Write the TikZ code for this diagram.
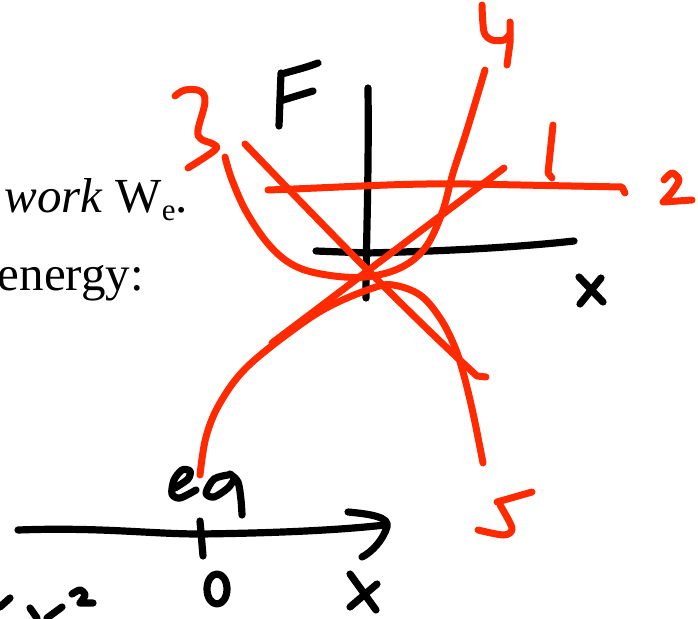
\documentclass[tikz,border=0pt]{standalone}
\usepackage{fontspec}
\setmainfont{Liberation Serif}
\definecolor{pen}{RGB}{255,42,0}
\tikzset{
  ink/.style={line width=7.2pt, line cap=round, line join=round, black},
  redink/.style={line width=7pt, line cap=round, line join=round, pen},
  slide/.style={inner sep=0pt, font=\fontsize{49}{54}\selectfont},
}
\begin{document}
\begin{tikzpicture}[x=1pt,y=-1pt]
\useasboundingbox (0,0) rectangle (698,618);
\clip (0,0) rectangle (698,618);
% slide text
\node[slide, anchor=base east] (t1) at (188,212) {\textit{work} W{\fontsize{31}{31}\selectfont\raisebox{-8pt}{e}}.};
\node[slide, anchor=base east] (t2) at (144,290) {energy:};
% black sketch: F axes
\draw[ink] (279,126) -- (281,73);
\draw[ink] (282,74) .. controls (295,70) and (305,68) .. (318,63);
\draw[ink] (280,101) -- (313,91);
\draw[ink] (368,88) .. controls (369,180) and (366,240) .. (366,298);
\draw[ink] (316,251) -- (367,253) .. controls (450,251) and (520,247) .. (574,241);
\draw[ink] (579,277) -- (603,302);
\draw[ink] (601,278) -- (580,304);
% bottom axis
\draw[ink] (18,530) .. controls (100,527) and (150,534) .. (200,534) .. controls (280,533) and (340,530) .. (385,525);
\draw[ink] (348,512) .. controls (370,514) and (390,517) .. (387,527) .. controls (383,540) and (372,552) .. (362,557);
\draw[ink] (200,521) -- (203,556);
\draw[ink] (217,589) ellipse [x radius=10, y radius=15];
\draw[ink] (350,574) -- (376,610);
\draw[ink] (377,584) -- (350,607);
% eq
\draw[ink] plot[smooth] coordinates {(175,488) (188,479) (190,471) (182,470) (174,480) (172,494) (180,498) (196,490)};
\draw[ink] plot[smooth] coordinates {(228,475) (214,479) (206,493) (214,497) (228,488) (235,478)};
\draw[ink] plot[smooth] coordinates {(230,474) (238,482) (241,500) (242,515)};
% x^2 fragments
\draw[ink] (0,607) -- (10,598);
\draw[ink] (30,608) -- (37,618);
\draw[ink] (62,607) -- (47,618);
\draw[ink] plot[smooth] coordinates {(72,594) (80,590) (85,595) (80,603)} -- (93,603);
% red curves
\draw[redink] (268,190) .. controls (350,187) and (400,183) .. (470,184) -- (622,187) -- (625,193);
\draw[redink] (504,168) -- (272,343);
\draw[redink] (245,144) .. controls (320,222) and (400,305) .. (477,376) -- (486,377);
\draw[redink] plot[smooth, tension=0.6] coordinates {(225,157) (232,180) (247,213) (270,246) (295,266) (327,275) (365,277) (400,268) (425,248) (442,213) (453,173) (467,130) (485,70)};
\draw[redink] plot[smooth, tension=0.6] coordinates {(200,475) (206,437) (220,403) (247,367) (297,327) (332,305) (373,288) (393,285) (420,295) (440,318) (454,345) (463,372) (473,413) (483,463)};
% red labels
\draw[redink] (553,125) -- (548,173) -- (552,178);
\draw[redink] plot[smooth] coordinates {(664,180) (672,173) (679,180) (672,192) (663,202)} -- (692,200);
\draw[redink] plot[smooth, tension=0.6] coordinates {(175,96) (185,90) (200,91) (205,102) (198,130) (201,139) (213,144) (215,150) (188,168)};
\draw[redink] plot[smooth] coordinates {(482,5) (484,32) (492,40) (504,40) (510,34)};
\draw[redink] (510,22) -- (510,43) -- (507,65);
\draw[redink] (532,492) -- (497,502);
\draw[redink] plot[smooth] coordinates {(500,505) (512,528) (504,535) (478,530)};
\end{tikzpicture}
\end{document}
